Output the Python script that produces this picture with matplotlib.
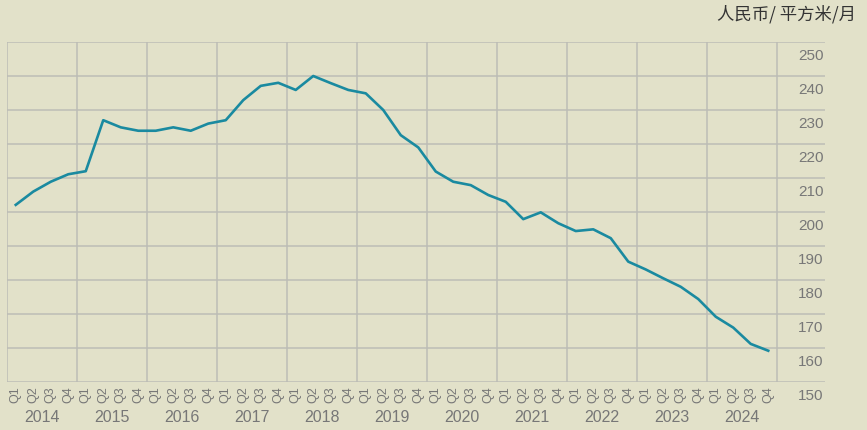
import matplotlib
matplotlib.use("Agg")
import matplotlib.pyplot as plt
from matplotlib.transforms import ScaledTranslation, blended_transform_factory

plt.rcParams['font.family'] = ['Liberation Sans', 'Noto Sans CJK SC', 'DejaVu Sans']

years = ['2014', '2015', '2016', '2017', '2018', '2019',
         '2020', '2021', '2022', '2023', '2024']
quarters = ['Q1', 'Q2', 'Q3', 'Q4']
rent = [202.1, 206.0, 208.9, 211.1,
        212.0, 227.0, 224.9, 223.9,
        223.9, 224.9, 223.9, 226.0,
        227.0, 232.9, 237.1, 238.0,
        235.9, 240.0, 237.9, 235.9,
        234.9, 230.0, 222.6, 219.0,
        211.9, 208.9, 207.9, 205.0,
        203.0, 197.9, 199.9, 196.7,
        194.4, 194.9, 192.3, 185.4,
        183.1, 180.5, 178.0, 174.4,
        169.2, 166.0, 161.2, 159.2]
y_ticks = [150, 160, 170, 180, 190, 200, 210, 220, 230, 240, 250]
unit = '人民币/ 平方米/月'

bg = '#e2e1c9'
grid_c = '#bdbdb6'
text_c = '#777777'

fig = plt.figure(figsize=(8.67, 4.30), dpi=100, facecolor=bg)
# axes spans x 7..825 px, y 42..382 px
ax = fig.add_axes([7 / 867, 48 / 430, 818 / 867, 340 / 430])
ax.set_facecolor(bg)

x = list(range(len(rent)))
ax.plot(x, rent, color='#1a8aa0', lw=1.9, solid_joinstyle='round', zorder=3)

ax.set_xlim(-0.5, -0.5 + 818 / 17.5)
ax.set_ylim(150, 250)

# horizontal grid at y ticks, full width
for v in y_ticks:
    ax.axhline(v, color=grid_c, lw=1.1, zorder=1)
# vertical lines at year boundaries
for i in range(len(years) + 1):
    ax.axvline(i * 4 - 0.5, color=grid_c, lw=1.1, zorder=1)

for s in ax.spines.values():
    s.set_visible(False)

# quarter tick labels
ax.set_xticks(x)
ax.set_xticklabels([q for _ in years for q in quarters], rotation=90,
                   fontsize=9, color=text_c)
ax.tick_params(axis='x', length=0, pad=3)

# y tick labels inside, right aligned, below gridline
ax.yaxis.tick_right()
ax.set_yticks(y_ticks)
ax.set_yticklabels([str(v) for v in y_ticks], fontsize=11, color=text_c, ha='right')
ax.tick_params(axis='y', length=0, pad=-1)
offset = ScaledTranslation(0, -12 / 100, fig.dpi_scale_trans)
for lab in ax.get_yticklabels():
    lab.set_transform(lab.get_transform() + offset)

# year labels
trans = blended_transform_factory(ax.transData, fig.transFigure)
for i, yr in enumerate(years):
    ax.text(i * 4 + 1.5, 1 - 417 / 430, yr, transform=trans, ha='center', va='center',
            fontsize=11.5, color=text_c)

fig.text(856 / 867, 1 - 14 / 430, unit, ha='right', va='center', fontsize=12.5,
         color='#333333', family=['Noto Sans CJK SC', 'DejaVu Sans'])

fig.savefig('out.png', dpi=100, facecolor=bg)
